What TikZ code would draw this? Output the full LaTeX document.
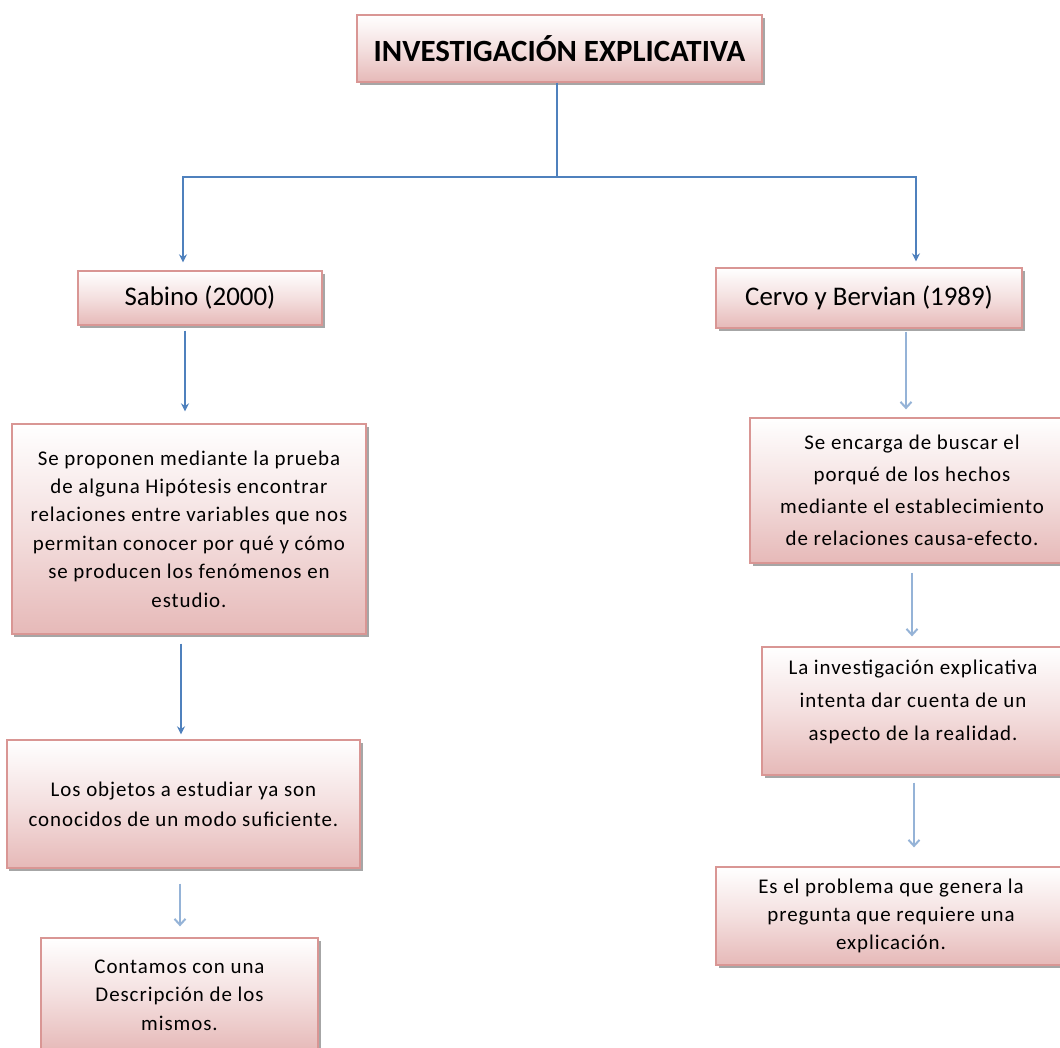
\documentclass[tikz,border=0pt]{standalone}
\usepackage{fontspec}
\setmainfont{Carlito}
\newfontfamily\bodyfont[LetterSpace=4.5]{Carlito}
\usetikzlibrary{arrows.meta,shadows}
\definecolor{boxline}{HTML}{D99694}
\definecolor{boxbot}{HTML}{E6B9B8}
\definecolor{darkblue}{HTML}{4F81BD}
\definecolor{lightblue}{HTML}{95B3D7}
\tikzset{
  pbox/.style={draw=boxline, line width=1.3bp, top color=white, bottom color=boxbot,
    middle color=boxbot!45, drop shadow={shadow xshift=2.5bp, shadow yshift=-3bp, fill=black, opacity=0.35},
    align=center, inner sep=0pt, text=black},
  txt/.style={font=\bodyfont\fontsize{21}{28.5}\selectfont},
  darr/.style={draw=darkblue, line width=1.6bp, -{Stealth[length=8bp,width=8bp]}},
  larr/.style={draw=lightblue, line width=2bp, -{Straight Barb[length=6bp,width=11bp,line width=2bp]}},
  conn/.style={draw=darkblue, line width=1.6bp}
}
\begin{document}
\begin{tikzpicture}[x=1bp,y=-1bp]
\useasboundingbox (0,0) rectangle (1060,1048);
\clip (0,0) rectangle (1060,1048);
\fill[white] (0,0) rectangle (1060,1048);

\node[pbox, minimum width=405bp, minimum height=67bp, font=\fontsize{31}{36}\selectfont\bfseries] (title) at (559.5,48.5) {INVESTIGACIÓN EXPLICATIVA};
\node[pbox, minimum width=244bp, minimum height=54bp, font=\fontsize{27}{32}\selectfont] (sab) at (200,298) {Sabino (2000)};
\node[pbox, minimum width=306bp, minimum height=60bp, font=\fontsize{27}{32}\selectfont] (cer) at (869,298) {Cervo y Bervian (1989)};

\node[pbox, txt, minimum width=354bp, minimum height=210bp] (s1) at (189,529) {Se proponen mediante la prueba\\de alguna Hipótesis encontrar\\relaciones entre variables que nos\\permitan conocer por qué y cómo\\se producen los fenómenos en\\estudio.};
\node[pbox, txt, minimum width=353bp, minimum height=128bp, font=\bodyfont\fontsize{21}{30}\selectfont] (s2) at (183.5,804) {Los objetos a estudiar ya son\\conocidos de un modo suficiente.};
\node[pbox, txt, minimum width=277bp, minimum height=114bp] (s3) at (179.5,995) {Contamos con una\\Descripción de los\\mismos.};

\node[pbox, txt, minimum width=324bp, minimum height=145bp, font=\bodyfont\fontsize{21}{32}\selectfont] (c1) at (912,490.5) {Se encarga de buscar el\\porqué de los hechos\\mediante el establecimiento\\de relaciones causa-efecto.};
\node[pbox, minimum width=302bp, minimum height=128bp] (c2) at (913,711) {};
\node[txt, font=\bodyfont\fontsize{21}{33}\selectfont, align=center, inner sep=0pt] (c2t) at (913,702) {La investigación explicativa\\intenta dar cuenta de un\\aspecto de la realidad.};
\node[pbox, txt, minimum width=350bp, minimum height=98bp] (c3) at (891,916) {Es el problema que genera la\\pregunta que requiere una\\explicación.};

\coordinate (j) at (557,177);
\coordinate (lx) at (183,0);
\coordinate (rx) at (916,0);
\draw[conn] (title.south -| j) -- (j);
\draw[darr, shorten >=8bp] (j) -| (lx |- sab.north);
\draw[darr, shorten >=6bp] (j) -| (rx |- cer.north);

\coordinate (a1) at (185,0);
\coordinate (a2) at (181,0);
\coordinate (a3) at (180,0);
\coordinate (b1) at (906,0);
\coordinate (b2) at (912,0);
\coordinate (b3) at (914,0);
\draw[darr, shorten <=5bp, shorten >=12bp] (a1 |- sab.south) -- (a1 |- s1.north);
\draw[darr, shorten <=9bp, shorten >=5bp] (a2 |- s1.south) -- (a2 |- s2.north);
\draw[larr, shorten <=15bp, shorten >=11bp] (a3 |- s2.south) -- (a3 |- s3.north);
\draw[larr, shorten <=3bp, shorten >=8bp] (b1 |- cer.south) -- (b1 |- c1.north);
\draw[larr, shorten <=9bp, shorten >=10bp] (b2 |- c1.south) -- (b2 |- c2.north);
\draw[larr, shorten <=7bp, shorten >=19bp] (b3 |- c2.south) -- (b3 |- c3.north);
\end{tikzpicture}
\end{document}
